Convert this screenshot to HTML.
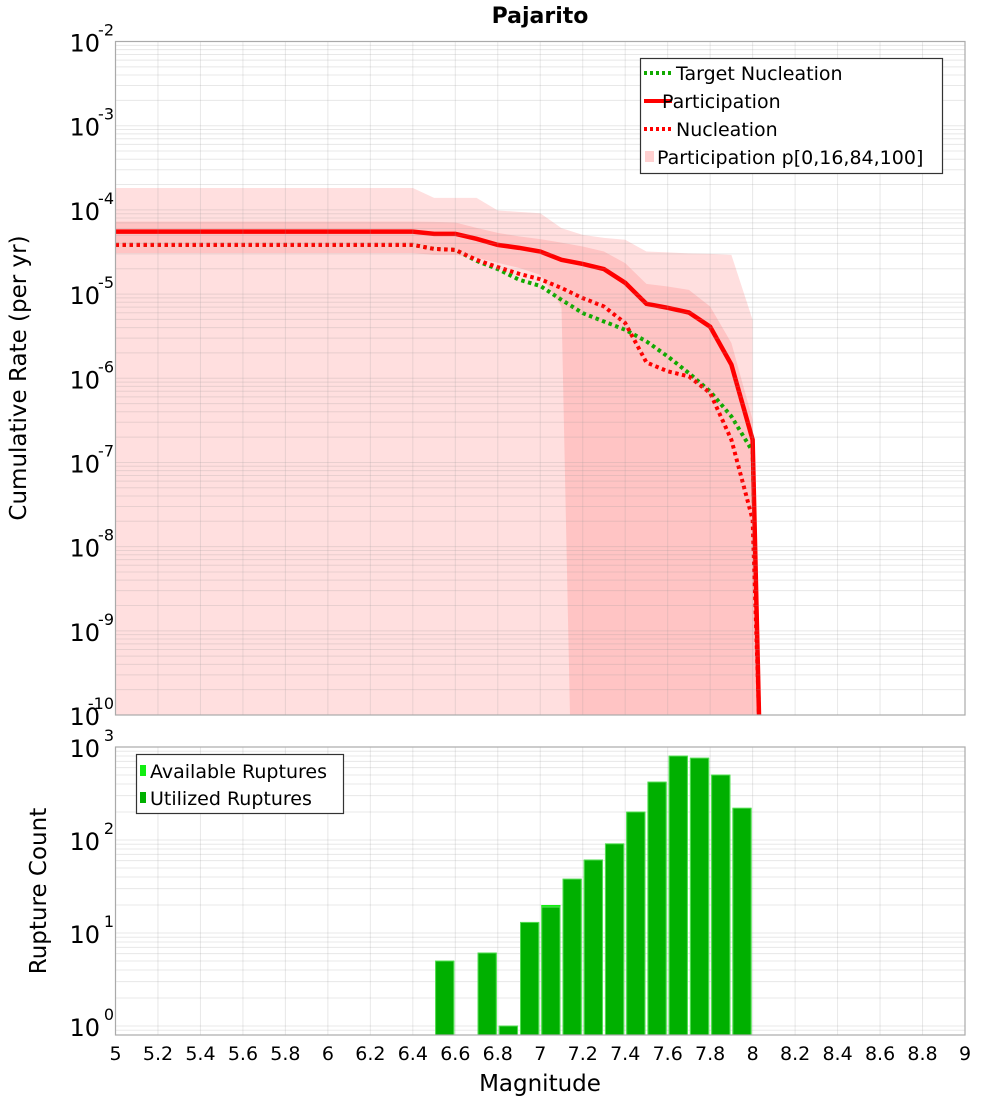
<!DOCTYPE html>
<html><head><meta charset="utf-8"><style>
html,body{margin:0;padding:0;background:#fff;}
svg{display:block;font-family:"DejaVu Sans","Liberation Sans",sans-serif;}
</style></head><body>
<svg id="chart" width="1000" height="1100" viewBox="0 0 1000 1100" xmlns="http://www.w3.org/2000/svg">
<defs>
<clipPath id="clipTop"><rect x="115.5" y="41.5" width="849.5" height="673.5"/></clipPath>
<clipPath id="clipBot"><rect x="115.5" y="747" width="849.5" height="288"/></clipPath>
</defs>
<text x="540" y="23" text-anchor="middle" font-size="22" font-weight="bold">Pajarito</text>
<g id="topPlot"></g>
<g id="botPlot"></g>
<text transform="translate(26,378) rotate(-90)" text-anchor="middle" font-size="23">Cumulative Rate (per yr)</text>
<text transform="translate(46,891) rotate(-90)" text-anchor="middle" font-size="23">Rupture Count</text>
<text x="540" y="1091" text-anchor="middle" font-size="23">Magnitude</text>
</svg>
<script>
// ---- data ----
const mags = [5.0,5.1,5.2,5.3,5.4,5.5,5.6,5.7,5.8,5.9,6.0,6.1,6.2,6.3,6.4,6.5,6.6,6.7,6.8,6.9,7.0,7.1,7.2,7.3,7.4,7.5,7.6,7.7,7.8,7.9,8.0];
const participation = [5.52e-5,5.52e-5,5.52e-5,5.52e-5,5.52e-5,5.52e-5,5.52e-5,5.52e-5,5.52e-5,5.52e-5,5.52e-5,5.52e-5,5.52e-5,5.52e-5,5.52e-5,5.19e-5,5.19e-5,4.53e-5,3.84e-5,3.54e-5,3.20e-5,2.55e-5,2.28e-5,1.98e-5,1.36e-5,7.66e-6,6.87e-6,6.04e-6,4.09e-6,1.45e-6,1.86e-7];
const nucleation = [3.84e-5,3.84e-5,3.84e-5,3.84e-5,3.84e-5,3.84e-5,3.84e-5,3.84e-5,3.84e-5,3.84e-5,3.84e-5,3.84e-5,3.84e-5,3.84e-5,3.84e-5,3.44e-5,3.35e-5,2.55e-5,2.09e-5,1.74e-5,1.50e-5,1.18e-5,8.95e-6,7.12e-6,4.52e-6,1.54e-6,1.21e-6,1.05e-6,6.67e-7,1.86e-7,2.09e-8];
const targetNucleation = [3.84e-5,3.84e-5,3.84e-5,3.84e-5,3.84e-5,3.84e-5,3.84e-5,3.84e-5,3.84e-5,3.84e-5,3.84e-5,3.84e-5,3.84e-5,3.84e-5,3.84e-5,3.44e-5,3.35e-5,2.48e-5,1.98e-5,1.48e-5,1.25e-5,8.55e-6,5.94e-6,4.72e-6,3.77e-6,2.74e-6,1.82e-6,1.15e-6,6.97e-7,3.52e-7,1.35e-7];
const p100 = [1.82e-4,1.82e-4,1.82e-4,1.82e-4,1.82e-4,1.82e-4,1.82e-4,1.82e-4,1.82e-4,1.82e-4,1.82e-4,1.82e-4,1.82e-4,1.82e-4,1.82e-4,1.39e-4,1.39e-4,1.39e-4,9.82e-5,9.47e-5,9.13e-5,6.07e-5,5.05e-5,4.65e-5,4.41e-5,3.20e-5,3.13e-5,3.04e-5,3.00e-5,2.92e-5,4.94e-6];
const p84 = [7.26e-5,7.26e-5,7.26e-5,7.26e-5,7.26e-5,7.26e-5,7.26e-5,7.26e-5,7.26e-5,7.26e-5,7.26e-5,7.26e-5,7.26e-5,7.26e-5,7.26e-5,7.2e-5,7.07e-5,6.11e-5,5.33e-5,4.85e-5,4.49e-5,4.09e-5,3.67e-5,3.20e-5,2.33e-5,1.32e-5,1.23e-5,1.12e-5,7.11e-6,2.62e-6,3.21e-7];
const p16Mags = [5.0,5.1,5.2,5.3,5.4,5.5,5.6,5.7,5.8,5.9,6.0,6.1,6.2,6.3,6.4,6.5,6.6,6.7,6.8,6.9,7.0,7.1,7.14];
const p16 = [3.06e-5,3.06e-5,3.06e-5,3.06e-5,3.06e-5,3.06e-5,3.06e-5,3.06e-5,3.06e-5,3.06e-5,3.06e-5,3.06e-5,3.06e-5,3.06e-5,3.06e-5,2.92e-5,2.92e-5,2.69e-5,2.35e-5,2.05e-5,1.69e-5,7.12e-6,1e-10];
const p0 = 1e-10;
const tailMag = 8.03, tailRate = 1e-10;
const binMags = [6.55,6.75,6.85,6.95,7.05,7.15,7.25,7.35,7.45,7.55,7.65,7.75,7.85,7.95];
const available = [5,6.1,1,13,20,38,61,91,200,420,800,760,500,220];
const utilized = [5,6.1,1,13,19,38,61,91,200,420,800,760,500,220];
const xTicks = ["5","5.2","5.4","5.6","5.8","6","6.2","6.4","6.6","6.8","7","7.2","7.4","7.6","7.8","8","8.2","8.4","8.6","8.8","9"];
const topDecades = [-2,-3,-4,-5,-6,-7,-8,-9,-10];
const botDecades = [3,2,1,0];

// ---- axes ----
const NS="http://www.w3.org/2000/svg";
const L=115.5,R=965,T1=41.5,B1=715,T2=747,B2=1035;
const X=m=>L+(m-5)*(R-L)/4;
const Y1=v=>T1+(-2-Math.log10(Math.max(v,1e-12)))*(B1-T1)/8;
const Y2=v=>1026-Math.log10(v)*93;
function mk(tag,attrs,parent){const e=document.createElementNS(NS,tag);for(const k in attrs)e.setAttribute(k,attrs[k]);parent.appendChild(e);return e;}
const topG=document.getElementById('topPlot'), botG=document.getElementById('botPlot');

mk('rect',{x:L,y:T1,width:R-L,height:B1-T1,fill:'#fff'},topG);
mk('rect',{x:L,y:T2,width:R-L,height:B2-T2,fill:'#fff'},botG);

// top bands
const gT=mk('g',{'clip-path':'url(#clipTop)'},topG);
let pts=mags.map((m,i)=>X(m)+','+Y1(p100[i]));
pts.push(X(8.0)+','+Y1(p0)); pts.push(X(5)+','+Y1(p0));
let outer=mk('polygon',{points:pts.join(' '),fill:'#ffdfdf'},gT);


pts=mags.map((m,i)=>X(m)+','+Y1(p84[i]));
pts.push(X(8.02)+','+Y1(1e-10));
for(let i=p16Mags.length-1;i>=0;i--)pts.push(X(p16Mags[i])+','+Y1(p16[i]));
let inner=mk('polygon',{points:pts.join(' '),fill:'#ffc4c4'},gT);



function grid(parent,decs,Yf,top_,bot_){
  const g=mk('g',{stroke:'rgba(150,150,150,0.22)','stroke-width':1},parent);
  for(let i=1;i<20;i++){const x=X(5+i*0.2);mk('line',{x1:x,x2:x,y1:top_,y2:bot_},g);}
  const lo=Math.min(...decs),hi=Math.max(...decs);
  for(let d=lo-1;d<=hi;d++)for(let k=1;k<10;k++){const y=Yf(k*Math.pow(10,d));if(y>top_&&y<bot_)mk('line',{x1:L,x2:R,y1:y,y2:y},g);}
}
grid(topG,topDecades,Y1,T1,B1);

function line(parent,ms,vs,color,w,dash,name){
  const p=ms.map((m,i)=>X(m)+','+Y1(vs[i])); p.push(X(tailMag)+','+Y1(tailRate));
  const e=mk('polyline',{points:p.join(' '),fill:'none',stroke:color,'stroke-width':w,'stroke-linejoin':'miter'},parent);
  if(dash)e.setAttribute('stroke-dasharray',dash);
  
  
}
line(gT,mags,targetNucleation,'#11aa00',4,'3.5 3.5','target-nucleation-line');
line(gT,mags,nucleation,'#ff0000',4,'3.5 3.5','nucleation-line');
line(gT,mags,participation,'#ff0000',4.5,null,'participation-line');
mk('rect',{x:L,y:T1,width:R-L,height:B1-T1,fill:'none',stroke:'#aaa','stroke-width':1.2},topG);

topDecades.forEach(d=>{
  const y=Y1(Math.pow(10,d));
  const t=mk('text',{x:100,y:y+10,'text-anchor':'end','font-size':24},topG);
  
  
  t.textContent='10';
  const s=mk('tspan',{x:114,dy:-16,'font-size':16,'text-anchor':'end'},t); s.textContent=String(d);
});

const lg=mk('g',{},topG);


mk('rect',{x:640.5,y:58.5,width:302,height:115,fill:'#fff',stroke:'#333','stroke-width':1.2},lg);
const le=[['Target Nucleation','#11aa00','3 3',80],['Participation','#ff0000',null,108],['Nucleation','#ff0000','3 3',136]];
le.forEach(([n,c,d,y])=>{
  const l=mk('line',{x1:644,x2:672,y1:y-7,y2:y-7,stroke:c,'stroke-width':4},lg); if(d)l.setAttribute('stroke-dasharray',d);
  const t=mk('text',{x:n==='Participation'?662:676,y:y,'font-size':19},lg); t.textContent=n;
  
  
});
mk('rect',{x:645,y:151,width:9,height:11,fill:'#ffd0d0'},lg);
const tp=mk('text',{x:657,y:164,'font-size':19},lg); tp.textContent='Participation p[0,16,84,100]';



// bottom
grid(botG,botDecades,Y2,T2,B2);
const gB=mk('g',{'clip-path':'url(#clipBot)'},botG);
binMags.forEach((m,i)=>{
  const x=X(m-0.05)+1,w=X(m+0.05)-X(m-0.05)-2;
  let a=mk('rect',{x:x,y:Y2(available[i]),width:w,height:B2-Y2(available[i]),fill:'#11ee11'},gB);
  
  
  let u=mk('rect',{x:x+0.5,y:Y2(utilized[i]),width:w-1,height:B2-Y2(utilized[i]),fill:'#00b000',stroke:'#55dd55','stroke-width':1},gB);
  
  
});
mk('rect',{x:L,y:T2,width:R-L,height:B2-T2,fill:'none',stroke:'#aaa','stroke-width':1.2},botG);
botDecades.forEach(d=>{
  const y=Y2(Math.pow(10,d));
  const t=mk('text',{x:100,y:y+10,'text-anchor':'end','font-size':24},botG);
  
  
  t.textContent='10';
  const s=mk('tspan',{x:114,dy:-16,'font-size':16,'text-anchor':'end'},t); s.textContent=String(d);
});
xTicks.forEach((s,i)=>{
  const t=mk('text',{x:X(5+i*0.2),y:1060,'text-anchor':'middle','font-size':19},botG);
  
  
  t.textContent=s;
});
const bl=mk('g',{},botG);


mk('rect',{x:136.5,y:754.5,width:207,height:59,fill:'#fff',stroke:'#333','stroke-width':1.2},bl);
mk('rect',{x:140,y:765,width:6,height:11,fill:'#11ee11'},bl);
mk('rect',{x:140,y:792,width:6,height:11,fill:'#00b000'},bl);
[['Available Ruptures',778],['Utilized Ruptures',805]].forEach(([n,y])=>{
  const t=mk('text',{x:150,y:y,'font-size':19},bl); t.textContent=n;
  
  
});
</script>
</body></html>
